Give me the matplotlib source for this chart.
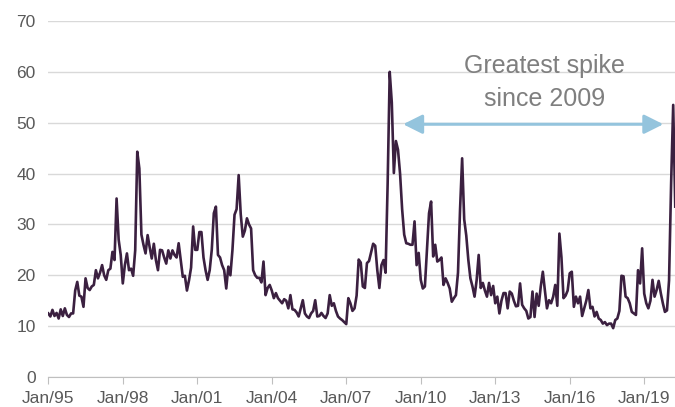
import numpy as np
import matplotlib.pyplot as plt

plt.rcParams['font.family'] = ['Liberation Sans', 'DejaVu Sans']

# monthly index values, Jan 1995 onwards
start_year = 1995
vix = [
    12.5, 11.9, 13.2, 12.0, 12.6, 11.5, 13.3, 12.0, 13.5, 12.2, 11.8, 12.5,   # 1995
    12.5, 17.0, 18.7, 16.0, 15.8, 13.8, 19.4, 17.5, 17.1, 17.8, 18.1, 21.0,   # 1996
    19.4, 20.5, 22.0, 20.0, 19.1, 21.0, 21.3, 24.6, 23.0, 35.1, 27.0, 24.0,   # 1997
    18.4, 22.0, 24.3, 21.0, 21.3, 19.9, 24.9, 44.3, 41.0, 28.0, 26.0, 24.3,   # 1998
    27.9, 25.5, 23.3, 26.2, 23.0, 21.0, 25.0, 24.9, 23.5, 22.3, 24.9, 23.3,   # 1999
    24.9, 24.0, 23.5, 26.3, 23.0, 19.7, 19.9, 17.0, 19.0, 21.5, 29.6, 25.0,   # 2000
    25.0, 28.5, 28.5, 23.5, 21.0, 19.1, 21.0, 25.0, 32.2, 33.5, 24.0, 23.5,   # 2001
    22.0, 21.0, 17.4, 21.7, 20.0, 25.0, 31.9, 33.0, 39.7, 32.0, 27.6, 28.8,   # 2002
    31.2, 30.0, 29.2, 21.0, 20.0, 19.5, 19.5, 18.6, 22.7, 16.1, 17.5, 18.1,   # 2003
    17.0, 15.5, 16.5, 15.5, 15.0, 14.5, 15.3, 15.0, 13.5, 16.1, 13.3, 13.2,   # 2004
    12.7, 11.9, 13.5, 15.1, 12.5, 11.9, 11.6, 12.5, 13.0, 15.1, 11.9, 12.0,   # 2005
    12.6, 12.0, 11.6, 12.5, 16.1, 14.0, 14.5, 13.0, 11.9, 11.5, 11.2, 10.8,   # 2006
    10.4, 15.5, 14.5, 13.0, 13.5, 16.0, 23.1, 22.5, 17.8, 17.5, 22.4, 22.8,   # 2007
    24.5, 26.2, 25.8, 21.0, 17.5, 22.0, 23.0, 20.5, 38.0, 60.0, 54.0, 40.1,   # 2008
    46.4, 44.7, 40.0, 33.0, 28.0, 26.3, 26.2, 26.0, 26.0, 30.6, 22.0, 24.4,   # 2009
    19.1, 17.4, 17.8, 25.0, 32.2, 34.5, 23.7, 26.0, 22.7, 23.0, 23.5, 18.1,   # 2010
    19.4, 18.5, 17.4, 14.8, 15.5, 16.1, 20.5, 33.0, 43.0, 31.0, 27.8, 23.0,   # 2011
    19.4, 17.8, 15.8, 19.0, 24.0, 17.5, 18.5, 17.0, 15.8, 18.5, 16.1, 17.9,   # 2012
    14.5, 15.8, 12.5, 15.0, 16.5, 16.5, 13.5, 16.8, 16.4, 15.0, 13.9, 14.0,   # 2013
    18.4, 14.2, 13.5, 13.0, 11.5, 11.8, 16.8, 11.8, 16.4, 14.0, 17.8, 20.7,   # 2014
    17.0, 13.5, 15.1, 14.5, 15.8, 18.1, 14.0, 28.2, 23.5, 15.5, 16.0, 17.0,   # 2015
    20.4, 20.7, 13.8, 15.8, 14.5, 15.8, 12.0, 13.5, 15.0, 17.1, 13.5, 13.8,   # 2016
    11.9, 12.8, 11.5, 11.2, 10.5, 10.8, 10.2, 10.5, 10.5, 9.6, 11.2, 11.5,    # 2017
    13.0, 19.9, 19.8, 15.8, 15.5, 14.5, 12.8, 12.5, 12.2, 21.0, 18.4, 25.3,   # 2018
    16.4, 14.5, 13.5, 15.0, 19.1, 15.8, 17.1, 18.9, 16.5, 14.5, 12.8, 13.1,   # 2019
    19.0, 38.0, 53.5, 33.5,                                                   # 2020
]
tick_years = [1995, 1998, 2001, 2004, 2007, 2010, 2013, 2016, 2019]
tick_labels = ['Jan/95', 'Jan/98', 'Jan/01', 'Jan/04', 'Jan/07',
               'Jan/10', 'Jan/13', 'Jan/16', 'Jan/19']
y_ticks = [0, 10, 20, 30, 40, 50, 60, 70]
note_lines = ['Greatest spike', 'since 2009']

x = start_year + np.arange(len(vix)) / 12.0

fig = plt.figure(figsize=(6.75, 4.07), dpi=100)
ax = fig.add_axes([48.3 / 675, 30 / 407, (676 - 48.3) / 675, 356 / 407])

ax.plot(x, vix, color='#3b2040', lw=1.9, solid_joinstyle='round')

ax.set_xlim(1995, 1995 + (676 - 48.3) / 24.83)
ax.set_ylim(0, 70)
ax.set_yticks(y_ticks)
ax.set_xticks(tick_years)
ax.set_xticklabels(tick_labels)
ax.yaxis.grid(True, color='#d9d9d9', lw=1)
ax.set_axisbelow(True)
for s in ['top', 'right', 'left']:
    ax.spines[s].set_visible(False)
ax.spines['bottom'].set_color('#bfbfbf')
ax.tick_params(axis='y', length=0, pad=9, labelsize=12.5, labelcolor='#595959')
ax.tick_params(axis='x', length=5, color='#bfbfbf', pad=5,
               labelsize=12.5, labelcolor='#595959')

# annotation
ax.annotate('', xy=(2019.77, 49.7), xytext=(2009.29, 49.7),
            arrowprops=dict(arrowstyle='<|-|>,head_length=0.4,head_width=0.2',
                            color='#94c4dd', lw=2.2, mutation_scale=29,
                            shrinkA=0, shrinkB=0))
ax.text(2015.0, 59.8, note_lines[0], ha='center', va='baseline',
        fontsize=18, color='#7f7f7f')
ax.text(2015.0, 53.3, note_lines[1], ha='center', va='baseline',
        fontsize=18, color='#7f7f7f')

fig.savefig('out.png', dpi=100)
